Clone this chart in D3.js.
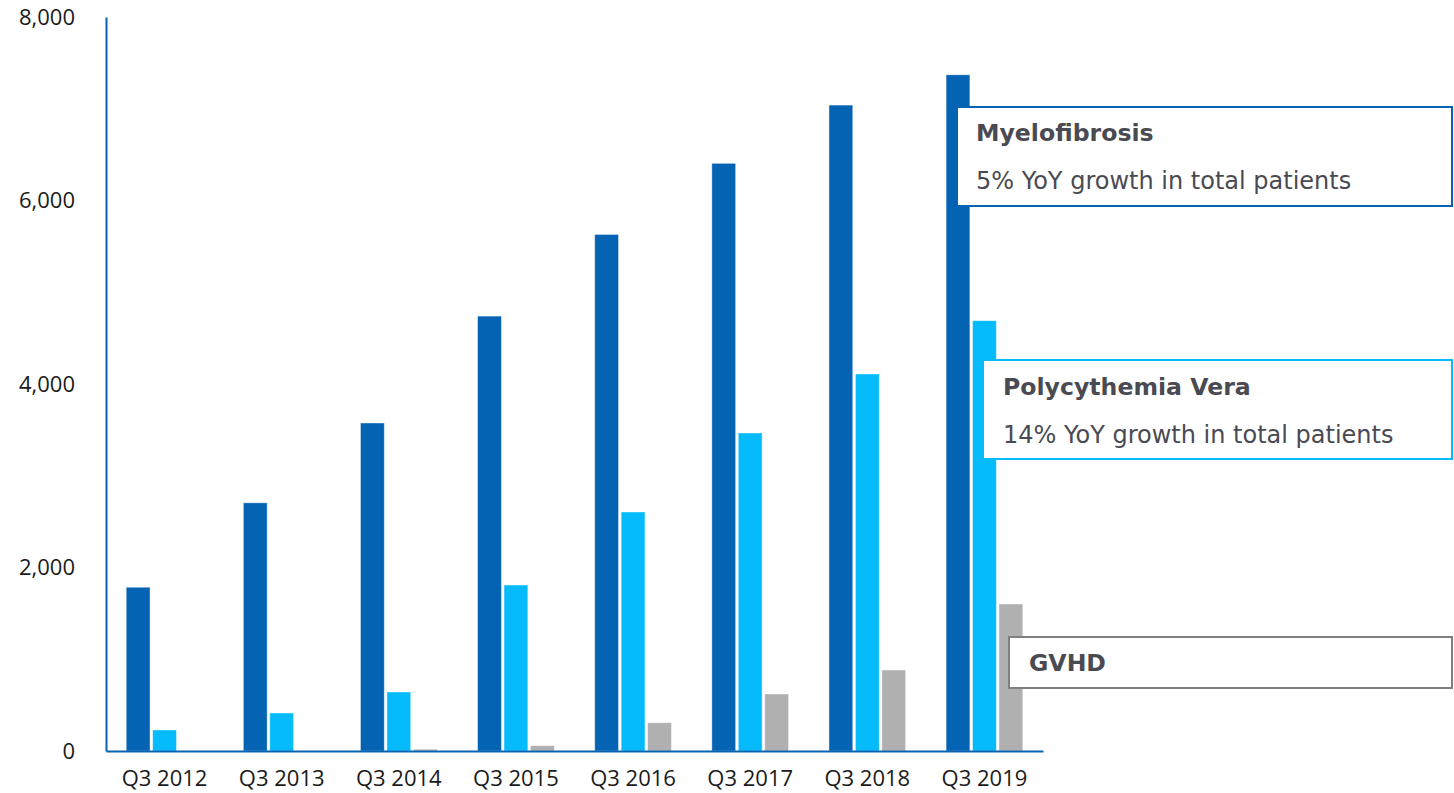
<!DOCTYPE html>
<html>
<head>
<meta charset="utf-8">
<script src="https://cdn.jsdelivr.net/npm/d3@7"></script>
<style>
  html, body { margin: 0; padding: 0; background: #ffffff; }
  svg { display: block; }
</style>
</head>
<body>
<svg id="chart" width="1454" height="793"></svg>
<script>
// ---- data ----
const categories = ["Q3 2012", "Q3 2013", "Q3 2014", "Q3 2015", "Q3 2016", "Q3 2017", "Q3 2018", "Q3 2019"];
const seriesNames = ["Myelofibrosis", "Polycythemia Vera", "GVHD"];
const myelofibrosis = [1785, 2705, 3575, 4740, 5630, 6405, 7040, 7370];
const polycythemiaVera = [229, 414, 643, 1809, 2605, 3466, 4109, 4690];
const gvhd = [0, 0, 20, 58, 308, 621, 883, 1602];
const yTicks = [0, 2000, 4000, 6000, 8000];
const calloutTitles = ["Myelofibrosis", "Polycythemia Vera", "GVHD"];
const calloutTexts = ["5% YoY growth in total patients", "14% YoY growth in total patients", ""];

const colors = ["#0563b4", "#05bbfb", "#b0b0b0"];
const seriesValues = [myelofibrosis, polycythemiaVera, gvhd];

const svg = d3.select("#chart");

const x0 = d3.scaleBand().domain(categories).range([106, 1043]).paddingInner(0.3).paddingOuter(0.15);
const x1 = d3.scaleBand().domain(seriesNames).range([0, x0.bandwidth()]).padding(0.1);
const y = d3.scaleLinear().domain([0, 8000]).range([751, 17]);

// bars
const groups = svg.append("g").selectAll("g")
  .data(categories)
  .join("g")
  .attr("transform", d => `translate(${x0(d)},0)`);

groups.selectAll("rect")
  .data((d, i) => seriesNames.map((s, k) => ({ s, k, v: seriesValues[k][i] })))
  .join("rect")
  .attr("x", d => x1(d.s))
  .attr("width", x1.bandwidth())
  .attr("y", d => y(d.v))
  .attr("height", d => y(0) - y(d.v))
  .attr("fill", d => colors[d.k])
  .attr("stroke", "rgba(255,255,255,0.5)")
  .attr("stroke-width", 0.8);

// y axis
const yAxis = svg.append("g")
  .attr("transform", "translate(106,0)")
  .call(d3.axisLeft(y).tickValues(yTicks).tickFormat(d3.format(",")).tickSize(0).tickPadding(31));
yAxis.select(".domain").attr("stroke", "#0563b4").attr("stroke-width", 2);
yAxis.selectAll("text")
  .attr("font-family", "'Open Sans', sans-serif")
  .attr("font-size", 22)
  .attr("fill", "#1a1a1a");

// x axis
const xAxis = svg.append("g")
  .attr("transform", "translate(0,751)")
  .call(d3.axisBottom(x0).tickSize(0).tickPadding(19));
xAxis.select(".domain").attr("stroke", "#0563b4").attr("stroke-width", 2);
xAxis.selectAll("text")
  .attr("font-family", "'Open Sans', sans-serif")
  .attr("font-size", 22)
  .attr("fill", "#1a1a1a");

// callout boxes
const callouts = [
  { left: 957, top: 107, bottom: 206, stroke: "#0563b4", t1y: 141, t2y: 189, tx: 976 },
  { left: 983, top: 360, bottom: 459, stroke: "#05bbfb", t1y: 395, t2y: 443, tx: 1003 },
  { left: 1009, top: 637, bottom: 688, stroke: "#7f7f7f", t1y: 671, t2y: 0, tx: 1029 }
];
callouts.forEach((c, i) => {
  const g = svg.append("g");
  g.append("rect")
    .attr("x", c.left).attr("y", c.top)
    .attr("width", 1452 - c.left).attr("height", c.bottom - c.top)
    .attr("fill", "#ffffff")
    .attr("stroke", c.stroke)
    .attr("stroke-width", 2);
  g.append("text")
    .attr("x", c.tx).attr("y", c.t1y)
    .attr("font-family", "'DejaVu Sans', sans-serif")
    .attr("font-size", 23.6)
    .attr("font-weight", "bold")
    .attr("fill", "#4a4a53")
    .text(calloutTitles[i]);
  if (calloutTexts[i]) {
    g.append("text")
      .attr("x", c.tx).attr("y", c.t2y)
      .attr("font-family", "'DejaVu Sans', sans-serif")
      .attr("font-size", 24)
      .attr("fill", "#4a4a53")
      .text(calloutTexts[i]);
  }
});
</script>
</body>
</html>
